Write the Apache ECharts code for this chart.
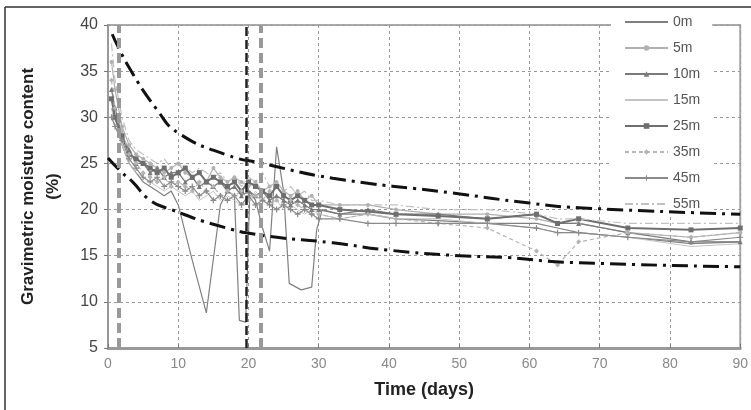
<!DOCTYPE html>
<html>
<head>
<meta charset="utf-8">
<script src="https://cdn.jsdelivr.net/npm/echarts@6/dist/echarts.min.js"></script>
<style>
  html, body { margin: 0; padding: 0; background: #fff; }
  #chart { width: 751px; height: 410px; }
</style>
</head>
<body>
<div id="chart"></div>
<script>
// sampling days shared by 5m..55m
const days = [0.5, 1, 2, 3, 4, 5, 6, 7, 8, 9, 10, 11, 12, 13, 14, 15, 16, 17, 18, 19, 20,
  21, 22, 23, 24, 25, 26, 27, 28, 29, 30, 33, 37, 41, 47, 54, 61, 64, 67, 74, 83, 90];

// 0m has its own days (dips)
const days0m = [0.5, 1, 2, 3, 4, 5, 6, 7, 8, 9, 10, 12, 14, 16, 17, 18, 18.7, 19.6, 20.2, 21,
  22, 23, 24, 25, 25.8, 27.5, 29, 29.7, 30.5, 33, 37, 41, 47, 54, 61, 64, 67, 74, 83, 90];
const m0 = [31, 30, 27, 25, 24, 23, 22.5, 22, 21.5, 22, 20.5, 14.5, 8.8, 20.5, 22, 21.5, 8.0, 7.8, 22, 21,
  18, 15.5, 26.8, 22, 12, 11.3, 11.6, 17.8, 20, 19.5, 19.5, 19, 18.8, 18.5, 18.5, 18, 17.5, 17, 16.3, 16.5];

const m5 = [36, 33, 29, 27, 26, 25.5, 25, 24.5, 24, 24.5, 25, 24, 23.5, 24, 23, 24.5, 23.5, 23, 23.5, 23, 22.5,
  23, 22, 22.5, 23, 22, 21.5, 22, 21, 21.5, 20.5, 20.5, 20.5, 20, 19.5, 19.5, 19, 18.5, 18.5, 17.5, 17, 17.5];
const m10 = [33, 31, 28, 26.5, 25, 25, 24, 24.5, 23.5, 24, 24, 23, 23.5, 22.5, 23, 22.5, 23, 22, 22.5, 21.5, 22,
  21.5, 22, 21, 21.5, 21, 20.5, 21, 20.5, 20, 20, 19.5, 20, 19.5, 19.5, 19, 19.5, 18.5, 18.5, 17.5, 16.5, 16.5];
const m15 = [31, 29, 27, 25, 24, 23.5, 23, 22.5, 22, 22.5, 22, 21.5, 22, 21, 21.5, 22, 21, 21.5, 21, 20.5, 21,
  22, 21, 20.5, 21, 20, 20.5, 20, 19.5, 20, 19.5, 19, 19.5, 19, 19, 18.5, 18, 17.5, 17.5, 17, 16, 16.3];
const m25 = [32, 30, 28, 26, 25.5, 25, 24.5, 24, 24.5, 23.5, 24, 24.5, 23.5, 24, 23, 23.5, 23, 22.5, 23, 22, 23,
  22.5, 22, 21.5, 22.5, 21.5, 21, 21.5, 21, 20.5, 20.5, 20, 19.8, 19.5, 19.3, 19, 19.5, 18.5, 19, 18, 17.8, 18];
const m35 = [34, 31, 28.5, 26, 25, 24, 23.5, 23, 23.5, 22.5, 23, 22.5, 22, 23, 22, 22.5, 21.5, 22, 21.5, 22, 21,
  21.5, 21, 22, 21, 20.5, 21, 20.5, 20, 19.5, 19.5, 19, 19.5, 19, 18.5, 18, 15.5, 14, 16.5, 17.5, 17, 17.5];
const m45 = [30, 29, 27.5, 25.5, 24.5, 23.5, 23, 23.5, 22.5, 23, 22.5, 22, 22.5, 21.5, 22, 21, 21.5, 21, 21.5, 20.5, 21.5,
  20.5, 21, 20.5, 20, 20.5, 20, 19.5, 20, 19.5, 19, 19, 18.5, 18.5, 18.5, 18.5, 18, 17.5, 17.5, 17, 16.5, 17];
const m55 = [38, 34, 30, 27.5, 26.5, 26, 25.5, 25, 25.5, 24.5, 25, 24.5, 24, 24.5, 24, 23.5, 24, 23, 23.5, 22.5, 23.5,
  23, 24, 22.5, 23, 22, 22.5, 21.5, 22, 21, 21, 20.5, 20.5, 20.5, 20, 20, 19.5, 19, 19, 18.5, 18.5, 18.5];

// envelope curves (dash-dot)
const upperX = [0.6, 3, 7, 10, 17, 22, 32, 49, 60, 67, 90];
const upperY = [39, 35.4, 30.8, 28.3, 25.9, 25, 23.4, 21.8, 20.7, 20.2, 19.5];
const lowerX = [0, 2, 3.5, 6, 9, 15.5, 22, 32, 40, 50, 57, 65, 90];
const lowerY = [25.6, 24, 23, 21, 20, 18.3, 17.2, 16.4, 15.6, 15, 14.8, 14.3, 13.8];

// vertical dashed reference lines
const refGray = [1.6, 21.7];
const refBlack = [19.7];

const yTicks = [5, 10, 15, 20, 25, 30, 35, 40];
const depthNames = ['0m', '5m', '10m', '15m', '25m', '35m', '45m', '55m'];
const noMarker = ['0m', '15m', '55m'];

function pairs(xs, ys) {
  return xs.map((x, i) => [x, ys[i]]);
}

const plus = 'path://M4,0H6V4H10V6H6V10H4V6H0V4H4Z';

function depth(name, xs, ys, color, width, symbol, size, type) {
  return {
    name: name,
    type: 'line',
    data: pairs(xs, ys),
    symbol: symbol,
    symbolSize: size,
    showSymbol: symbol !== 'none',
    itemStyle: { color: color },
    lineStyle: { color: color, width: width, type: type || 'solid' },
    z: 3,
  };
}

const chart = echarts.init(document.getElementById('chart'));
chart.setOption({
  animation: false,
  graphic: [
    { type: 'line', shape: { x1: 5, y1: 7, x2: 751, y2: 7 }, style: { stroke: '#333', lineWidth: 1.5 } },
    { type: 'line', shape: { x1: 5, y1: 7, x2: 5, y2: 410 }, style: { stroke: '#333', lineWidth: 1.5 } },
  ],
  grid: {
    left: 108, right: 8, top: 25, bottom: 62,
    show: true, borderColor: '#aaa', borderWidth: 2,
  },
  legend: {
    orient: 'vertical',
    left: 611, top: 11, z: 1,
    padding: [4, 12, 4, 13],
    backgroundColor: '#fff',
    itemWidth: 43, itemHeight: 7, itemGap: 12,
    data: depthNames.map(n => noMarker.indexOf(n) >= 0 ? { name: n, itemStyle: { opacity: 0 } } : n),
    textStyle: { color: '#555', fontSize: 14, fontFamily: 'Liberation Sans' },
  },
  xAxis: {
    type: 'value', min: 0, max: 90, interval: 10,
    name: 'Time (days)', nameLocation: 'middle', nameGap: 33,
    nameTextStyle: { fontSize: 18, fontWeight: 'bold', color: '#222', fontFamily: 'Liberation Sans' },
    axisLine: { lineStyle: { color: '#999', width: 3 } },
    axisTick: { show: true, inside: true, length: 4, lineStyle: { color: '#777' } },
    axisLabel: { color: '#888', fontSize: 14, margin: 9, fontFamily: 'Liberation Sans' },
    splitLine: { show: true, lineStyle: { color: '#999', type: [3, 3], width: 1 } },
  },
  yAxis: {
    type: 'value', min: yTicks[0], max: yTicks[yTicks.length - 1], interval: 5,
    name: 'Gravimetric moisture content\n(%)', nameLocation: 'middle', nameGap: 42,
    nameTextStyle: { fontSize: 17, fontWeight: 'bold', color: '#222', lineHeight: 25, fontFamily: 'Liberation Sans' },
    axisLine: { show: true, lineStyle: { color: '#999', width: 2 } },
    axisTick: { show: true, length: 4, lineStyle: { color: '#777' } },
    axisLabel: { color: '#444', fontSize: 16, margin: 10, fontFamily: 'Liberation Sans' },
    splitLine: { show: true, lineStyle: { color: '#999', type: [3, 3], width: 1 } },
  },
  series: [
    depth('0m', days0m, m0, '#808080', 1.2, 'none', 0),
    depth('5m', days, m5, '#b0b0b0', 1.2, 'circle', 4),
    depth('10m', days, m10, '#7a7a7a', 1.3, 'triangle', 5),
    depth('15m', days, m15, '#c4c4c4', 1, 'none', 0),
    depth('25m', days, m25, '#6e6e6e', 2, 'rect', 5),
    depth('35m', days, m35, '#b4b4b4', 1.2, 'diamond', 5, [4, 3]),
    depth('45m', days, m45, '#8a8a8a', 1.2, plus, 6),
    depth('55m', days, m55, '#c0c0c0', 1.2, 'none', 0, [8, 3, 2, 3]),
    {
      name: 'upper', type: 'line', smooth: true, symbol: 'none', z: 4,
      data: pairs(upperX, upperY),
      lineStyle: { color: '#111', width: 3, type: [16, 6, 3, 6] },
    },
    {
      name: 'lower', type: 'line', smooth: true, symbol: 'none', z: 4,
      data: pairs(lowerX, lowerY),
      lineStyle: { color: '#111', width: 3, type: [16, 6, 3, 6] },
      markLine: {
        silent: true, symbol: 'none', label: { show: false },
        data: refGray.map(v => ({ xAxis: v, lineStyle: { color: '#999', width: 4, type: [10, 5] } }))
          .concat(refBlack.map(v => ({ xAxis: v, lineStyle: { color: '#222', width: 2.5, type: [9, 4] } }))),
      },
    },
  ],
});
</script>
</body>
</html>
